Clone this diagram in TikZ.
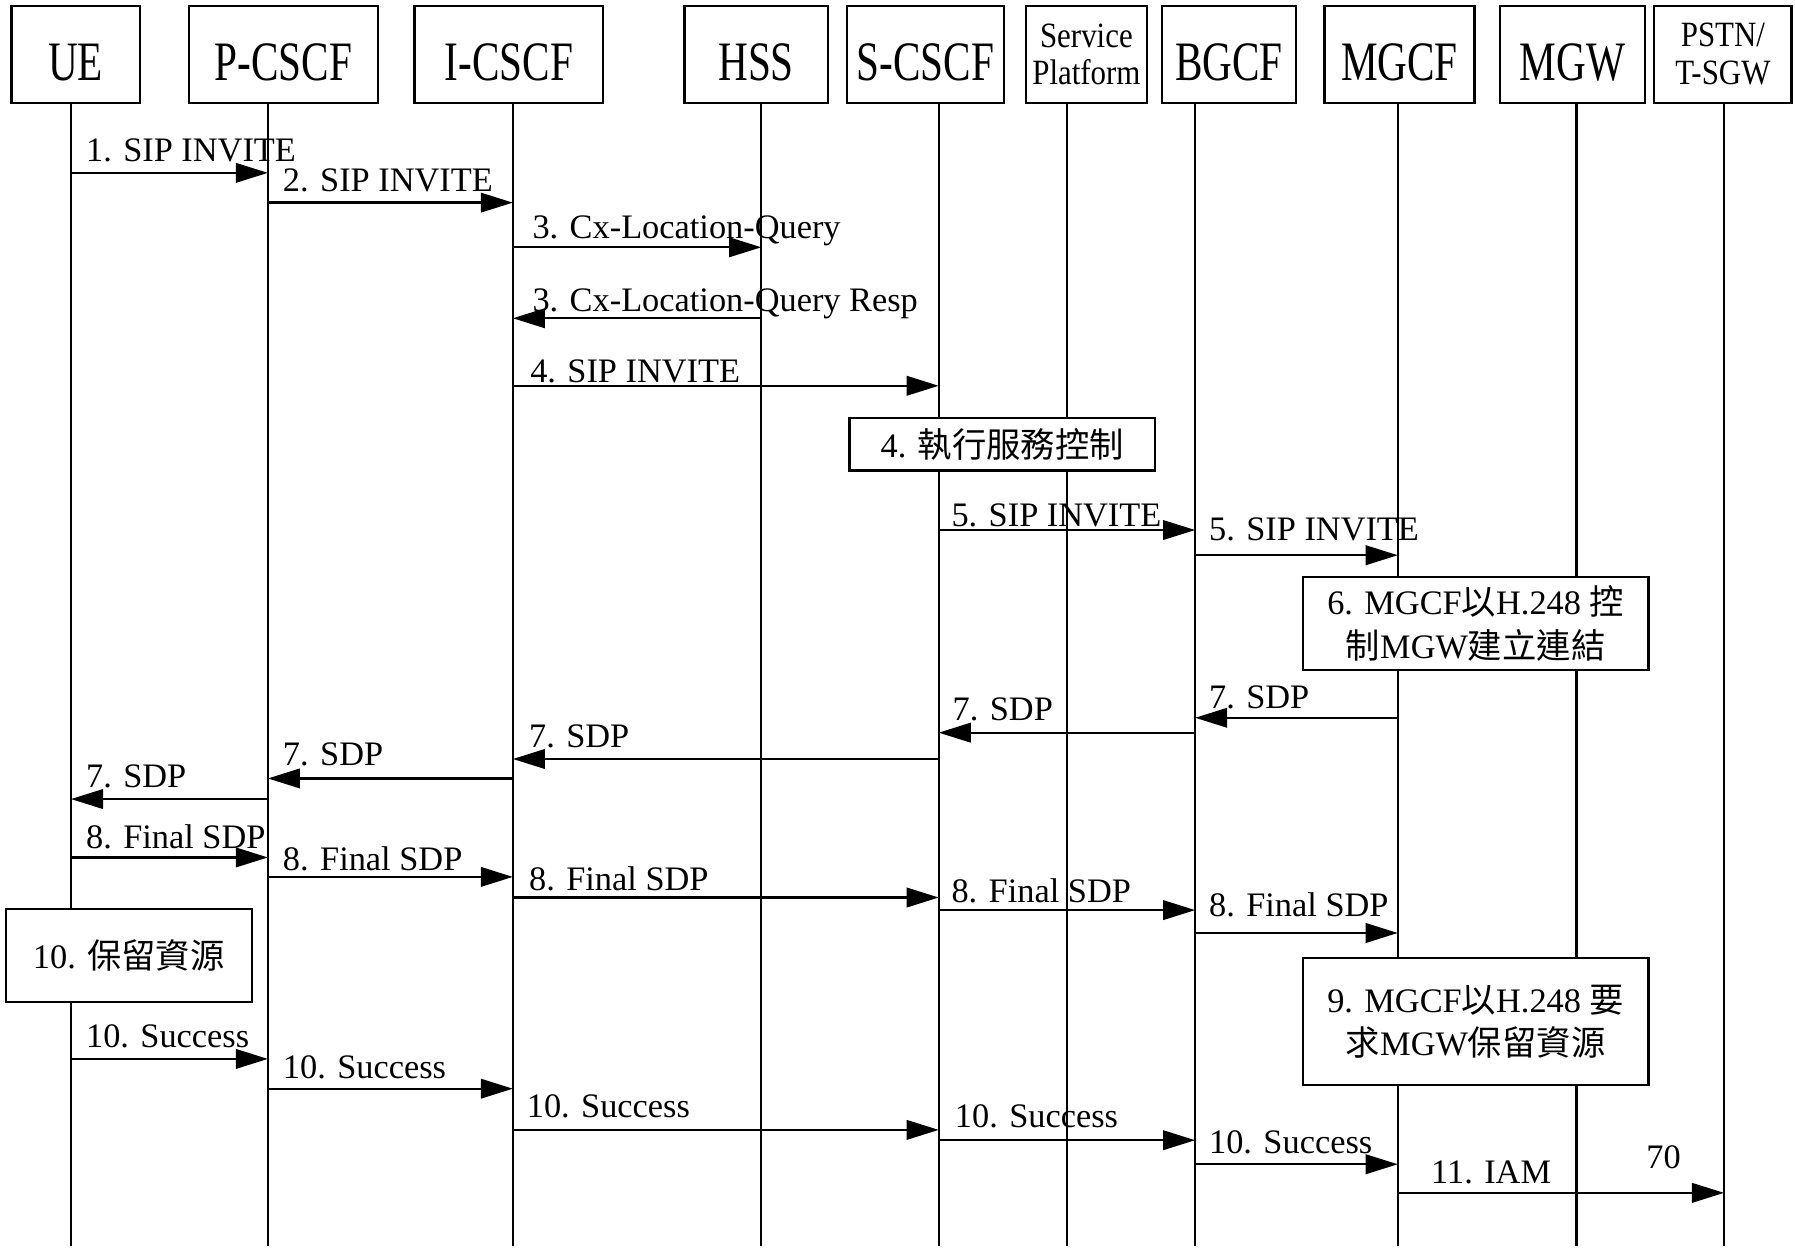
\documentclass[tikz,border=0pt]{standalone}
\usepackage{fontspec}
\setmainfont{Liberation Serif}
\newfontfamily\cjkfont{Noto Sans CJK TC}
\usetikzlibrary{arrows.meta}
\newcommand\zh[1]{{\cjkfont #1}}
\newcommand\htxt[1]{\raisebox{-23pt}[0pt][0pt]{\scalebox{1}[1.35]{#1}}}
\newcommand\msgarrow[6]{%
  \draw[msg] (#1 |- 0,#3) -- (#2 |- 0,#3);
  \node[lbl] (lab#3) at (#4,#5) {#6};}
\begin{document}
\begin{tikzpicture}[x=1pt,y=-1pt,
  hdr/.style={draw, line width=2pt, inner sep=0pt, font=\fontsize{36}{40}\selectfont},
  hdrs/.style={hdr, font=\fontsize{27}{33}\selectfont, align=center},
  life/.style={line width=2pt},
  msg/.style={line width=2pt, -{Triangle[length=28pt,width=17pt]}},
  lbl/.style={anchor=base west, inner sep=0pt, font=\fontsize{30}{36}\selectfont},
  actbox/.style={draw, fill=white, line width=2pt, inner sep=0pt, align=center, font=\fontsize{30}{38}\selectfont}]
\useasboundingbox (0,0) rectangle (1568,1092);
% headers
\node[hdr, minimum width=112pt, minimum height=85pt] (hUE) at (66,47.5) {\htxt{UE}};
\node[hdr, minimum width=165pt, minimum height=85pt] (hPC) at (247.5,47.5) {\htxt{P-CSCF}};
\node[hdr, minimum width=165pt, minimum height=85pt] (hIC) at (444.5,47.5) {\htxt{I-CSCF}};
\node[hdr, minimum width=125pt, minimum height=85pt] (hHSS) at (660.5,47.5) {\htxt{HSS}};
\node[hdr, minimum width=137pt, minimum height=85pt] (hSC) at (808.5,47.5) {\htxt{S-CSCF}};
\node[hdrs, minimum width=106pt, minimum height=85pt] (hSP) at (949,47.5) {\scalebox{1}[1.15]{Service}\\\scalebox{1}[1.15]{Platform}};
\node[hdr, minimum width=117pt, minimum height=85pt] (hBG) at (1073.5,47.5) {\htxt{BGCF}};
\node[hdr, minimum width=131pt, minimum height=85pt] (hMC) at (1222.5,47.5) {\htxt{MGCF}};
\node[hdr, minimum width=127pt, minimum height=85pt] (hMW) at (1373.5,47.5) {\htxt{MGW}};
\node[hdrs, minimum width=120pt, minimum height=85pt] (hPS) at (1505,47.5) {\scalebox{1}[1.15]{PSTN/}\\\scalebox{1}[1.15]{T-SGW}};
% lifelines
\coordinate (ue) at (62,90);
\coordinate (pc) at (234,90);
\coordinate (ic) at (448,90);
\coordinate (hss) at (665,90);
\coordinate (sc) at (820,90);
\coordinate (sp) at (932,90);
\coordinate (bg) at (1044,90);
\coordinate (mc) at (1221,90);
\coordinate (mw) at (1377,90);
\coordinate (ps) at (1506,90);
\foreach \l in {ue,pc,ic,hss,sc,sp,bg,mc,mw,ps}{\draw[life] (\l) -- (\l |- 0,1088);}
% activity boxes
\node[actbox, minimum width=267pt, minimum height=46pt] (b4) at (875.5,388) {4. \zh{執行服務控制}};
\node[actbox, minimum width=302pt, minimum height=81pt] (b6) at (1289,544.5) {\raisebox{-3pt}{6. MGCF\zh{以}H.248 \zh{控}}\\\raisebox{-3pt}{\zh{制}MGW\zh{建立連結}}};
\node[actbox, minimum width=215pt, minimum height=81pt] (b10) at (112.5,834.5) {10. \zh{保留資源}};
\node[actbox, minimum width=302pt, minimum height=111pt] (b9) at (1289,892.5) {9. MGCF\zh{以}H.248 \zh{要}\\\zh{求}MGW\zh{保留資源}};
% messages
\msgarrow{ue}{pc}{151}{75}{141}{1. SIP INVITE}
\msgarrow{pc}{ic}{177}{247}{167}{2. SIP INVITE}
\msgarrow{ic}{hss}{216}{465}{208}{3. Cx-Location-Query}
\msgarrow{hss}{ic}{278}{465}{272}{3. Cx-Location-Query Resp}
\msgarrow{ic}{sc}{337}{463}{334}{4. SIP INVITE}
\msgarrow{sc}{bg}{463}{831}{460}{5. SIP INVITE}
\msgarrow{bg}{mc}{485}{1056}{472}{5. SIP INVITE}
\msgarrow{mc}{bg}{627}{1056}{619}{7. SDP}
\msgarrow{bg}{sc}{640}{832}{629}{7. SDP}
\msgarrow{sc}{ic}{663}{462}{653}{7. SDP}
\msgarrow{ic}{pc}{680}{247}{669}{7. SDP}
\msgarrow{pc}{ue}{698}{75}{688}{7. SDP}
\msgarrow{ue}{pc}{749}{75}{741}{8. Final SDP}
\msgarrow{pc}{ic}{766}{247}{760}{8. Final SDP}
\msgarrow{ic}{sc}{784}{462}{778}{8. Final SDP}
\msgarrow{sc}{bg}{795}{831}{788}{8. Final SDP}
\msgarrow{bg}{mc}{815}{1056}{801}{8. Final SDP}
\msgarrow{ue}{pc}{925}{75}{915}{10. Success}
\msgarrow{pc}{ic}{951}{247}{942}{10. Success}
\msgarrow{ic}{sc}{987}{460}{976}{10. Success}
\msgarrow{sc}{bg}{996}{834}{985}{10. Success}
\msgarrow{bg}{mc}{1017}{1056}{1008}{10. Success}
\msgarrow{mc}{ps}{1042}{1250}{1034}{11. IAM}
\node[lbl] (n70) at (1438,1021) {70};
\end{tikzpicture}
\end{document}
